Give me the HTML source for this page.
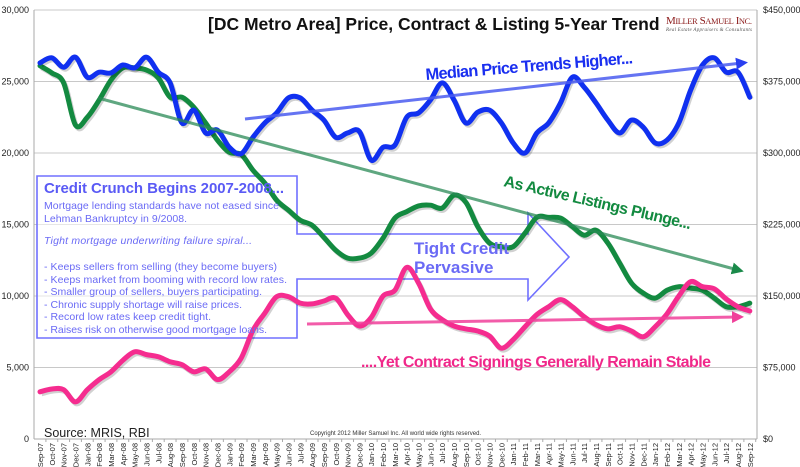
<!DOCTYPE html>
<html><head><meta charset="utf-8"><style>
html,body{margin:0;padding:0;background:#fff;}
svg{display:block;font-family:"Liberation Sans",Arial,sans-serif;}
</style></head><body>
<svg id="chart" width="800" height="467" viewBox="0 0 800 467" xmlns="http://www.w3.org/2000/svg">
<defs>
<marker id="ab" viewBox="0 0 10 10" refX="5" refY="5" markerWidth="4" markerHeight="4" orient="auto"><path d="M0,0L10,5L0,10z" fill="#2a3ff0"/></marker>
<marker id="ag" viewBox="0 0 10 10" refX="5" refY="5" markerWidth="4" markerHeight="4" orient="auto"><path d="M0,0L10,5L0,10z" fill="#1a8a4a"/></marker>
<marker id="ap" viewBox="0 0 10 10" refX="5" refY="5" markerWidth="4" markerHeight="4" orient="auto"><path d="M0,0L10,5L0,10z" fill="#f0409a"/></marker>
</defs>
<g id="grid"></g>
<g id="annot-back"></g>
<g id="series"></g>
<g id="labels"></g>
<text x="208" y="30" font-size="17.5" font-weight="bold" fill="#111">[DC Metro Area] Price, Contract &amp; Listing 5-Year Trend</text>
<text x="666" y="24" font-family="Liberation Serif,serif" font-size="11" fill="#8b1a1a" textLength="86">M<tspan font-size="8.5">ILLER</tspan> S<tspan font-size="8.5">AMUEL</tspan> I<tspan font-size="8.5">NC.</tspan></text>
<text x="666" y="31" font-family="Liberation Serif,serif" font-size="5" fill="#555" font-style="italic" textLength="86">Real Estate Appraisers &amp; Consultants</text>
<text x="44" y="437" font-size="12.5" fill="#222">Source: MRIS, RBI</text>
<text x="310" y="435" font-size="6" fill="#333">Copyright 2012 Miller Samuel Inc. All world wide rights reserved.</text>
</svg>
<script>
const months = ["Sep-07","Oct-07","Nov-07","Dec-07","Jan-08","Feb-08","Mar-08","Apr-08","May-08","Jun-08","Jul-08","Aug-08","Sep-08","Oct-08","Nov-08","Dec-08","Jan-09","Feb-09","Mar-09","Apr-09","May-09","Jun-09","Jul-09","Aug-09","Sep-09","Oct-09","Nov-09","Dec-09","Jan-10","Feb-10","Mar-10","Apr-10","May-10","Jun-10","Jul-10","Aug-10","Sep-10","Oct-10","Nov-10","Dec-10","Jan-11","Feb-11","Mar-11","Apr-11","May-11","Jun-11","Jul-11","Aug-11","Sep-11","Oct-11","Nov-11","Dec-11","Jan-12","Feb-12","Mar-12","Apr-12","May-12","Jun-12","Jul-12","Aug-12","Sep-12"];
// Median price in $K (right axis)
const medianPrice = [394.5,399.8,390,400.5,379.5,384.8,384,392.3,389.3,400.5,384.8,373.5,331.5,345,321,324,306,299.3,316.5,331.5,342,357.8,357.8,345,334.5,316.5,321,322.5,292.5,306,308.3,337.5,342,355.5,373.5,355.5,331.5,342.8,345,331.5,310.5,300,321,331.5,352.5,379.5,369,352.5,334.5,321,334.5,327,310.5,313.5,331.5,366,392.3,399.8,384.8,384.8,358.5];
// Active listings (left axis)
const activeListings = [26100,25600,24900,21950,22500,23700,25100,25950,25950,25800,25250,23900,23900,23200,22100,20900,20050,19900,18800,17900,16700,16000,15300,14950,14100,13200,12650,12650,13000,14050,15450,15900,16300,16350,16150,17050,16550,14850,13700,13450,13450,14400,15500,15500,15450,14850,14250,14600,13700,12300,10900,10200,9850,10400,10650,10550,10400,9850,9250,9250,9500];
// Contract signings (left axis)
const contractSignings = [3300,3500,3450,2600,3450,4150,4700,5500,6100,5900,5750,5400,5200,4700,4900,4150,4700,5650,7600,8800,9950,9950,9500,9450,9650,9850,8700,7900,8500,10000,10400,12000,10900,9100,8350,7900,7700,7550,7200,6350,6950,7850,8700,9250,9750,9250,8550,8000,7700,7850,7550,7150,7850,8750,10000,11000,10650,10500,9800,9250,8950];
const leftTicks = [0,5000,10000,15000,20000,25000,30000];
const leftTickLabels = ["0","5,000","10,000","15,000","20,000","25,000","30,000"];
const rightTicks = [0,75,150,225,300,375,450];
const rightTickLabels = ["$0","$75,000","$150,000","$225,000","$300,000","$375,000","$450,000"];

const NS="http://www.w3.org/2000/svg";
const X0=40, DX=11.83, Y0=439, YT=10;
const xPos=i=>X0+i*DX;
const yL=v=>Y0-(v/30000)*(Y0-YT);
const yR=v=>Y0-(v/450)*(Y0-YT);
function mk(tag,attrs,parent,text){const e=document.createElementNS(NS,tag);for(const k in attrs)e.setAttribute(k,attrs[k]);if(text!==undefined)e.textContent=text;parent.appendChild(e);return e;}
const grid=document.getElementById('grid'), back=document.getElementById('annot-back'), ser=document.getElementById('series'), lab=document.getElementById('labels');

leftTicks.forEach((t,i)=>{
  const y=yL(t);
  const ln=mk('line',{x1:34,x2:757,y1:y,y2:y,stroke:i==0?'#aaa':'#c8c8c8','stroke-width':1},grid);
  
  
  const tx=mk('text',{x:29,y:y+3,'font-size':9,'text-anchor':'end',fill:'#222'},lab,leftTickLabels[i]);
  
  
});
rightTicks.forEach((t,i)=>{
  const tx=mk('text',{x:763,y:yR(t)+3,'font-size':9,fill:'#222'},lab,rightTickLabels[i]);
  
  
});
mk('line',{x1:34,x2:34,y1:YT,y2:Y0,stroke:'#aaa'},grid);
mk('line',{x1:757,x2:757,y1:YT,y2:Y0,stroke:'#aaa'},grid);
months.forEach((m,i)=>{
  const x=xPos(i);
  mk('line',{x1:x+DX/2,x2:x+DX/2,y1:Y0,y2:Y0+3,stroke:'#aaa'},grid);
  const tx=mk('text',{x:0,y:0,'font-size':7.5,'text-anchor':'end',fill:'#222',transform:`translate(${x+3},${Y0+4}) rotate(-90)`},lab,m);
  
  
});

const box=mk('polygon',{points:"37,176 297,176 297,234 528,234 528,213 569,257 528,300 528,279 297,279 297,338 37,338",fill:'rgba(255,255,255,0.55)',stroke:'#7070ff','stroke-width':1.6},back);



function smooth(pts){let d=`M${pts[0][0]},${pts[0][1]}`;for(let i=0;i<pts.length-1;i++){const p0=pts[i-1]||pts[i],p1=pts[i],p2=pts[i+1],p3=pts[i+2]||p2;const c1=[p1[0]+(p2[0]-p0[0])/6,p1[1]+(p2[1]-p0[1])/6],c2=[p2[0]-(p3[0]-p1[0])/6,p2[1]-(p3[1]-p1[1])/6];d+=`C${c1[0]},${c1[1]} ${c2[0]},${c2[1]} ${p2[0]},${p2[1]}`;}return d;}
function series(vals,yf,color,name){
  const pts=vals.map((v,i)=>[xPos(i),yf(v)]);
  mk('path',{d:smooth(pts),fill:'none',stroke:'rgba(0,0,0,0.18)','stroke-width':5,transform:'translate(1.5,2)','stroke-linejoin':'round'},ser);
  const p=mk('path',{d:smooth(pts),fill:'none',stroke:color,'stroke-width':5,'stroke-linejoin':'round','stroke-linecap':'round'},ser);
  
  
}
series(activeListings,yL,'#138a40','active-listings-line');
series(medianPrice,yR,'#1030f0','median-price-line');
series(contractSignings,yL,'#f52c8f','contract-signings-line');

const t1=mk('line',{x1:245,y1:119,x2:742,y2:63,stroke:'#4a5cf0','stroke-opacity':0.85,'stroke-width':3,'marker-end':'url(#ab)'},ser);

const t2=mk('line',{x1:98,y1:98,x2:738,y2:270,stroke:'#2a8a55','stroke-opacity':0.75,'stroke-width':3,'marker-end':'url(#ag)'},ser);

const t3=mk('line',{x1:307,y1:324,x2:738,y2:317,stroke:'#f0409a','stroke-opacity':0.85,'stroke-width':3,'marker-end':'url(#ap)'},ser);


function txt(x,y,s,attrs,name){const e=mk('text',Object.assign({x:x,y:y},attrs),lab,s);return e;}
txt(0,0,'Median Price Trends Higher...',{'font-size':16.5,'font-weight':'bold',fill:'#1a2ff0',textLength:208,transform:'translate(426,80) rotate(-4.6)'},'price-annotation');
txt(0,0,'As Active Listings Plunge...',{'font-size':16,'font-weight':'bold',fill:'#138a40',textLength:192,transform:'translate(503,186) rotate(13)'},'listings-annotation');
txt(414,254,'Tight Credit',{'font-size':17,'font-weight':'bold',fill:'#6a6af5'},'tight-credit-label');
txt(414,273,'Pervasive',{'font-size':17,'font-weight':'bold',fill:'#6a6af5'},'pervasive-label');
txt(361,367,'....Yet Contract Signings Generally Remain Stable',{'font-size':16,'font-weight':'bold',fill:'#f0288a',textLength:350},'contracts-annotation');
txt(44,193,'Credit Crunch Begins 2007-2008...',{'font-size':15,'font-weight':'bold',fill:'#5a5af5',textLength:240},'callout-title');
const lines=[["Mortgage lending standards have not eased since",209,235],["Lehman Bankruptcy in 9/2008.",222,143],["Tight mortgage underwriting failure spiral...",244,208],["- Keeps sellers from selling (they become buyers)",270,233],["- Keeps market from booming with record low rates.",283,243],["- Smaller group of sellers, buyers participating.",295,218],["- Chronic supply shortage will raise prices.",308,198],["- Record low rates keep credit tight.",320,167],["- Raises risk on otherwise good mortgage loans.",333,223]];
lines.forEach((l,i)=>{const e=txt(44,l[1],l[0],{'font-size':10.5,fill:'#6a6af5',textLength:l[2],'font-style':i==2?'italic':'normal'},'callout-text-line');});
</script>
</body></html>
